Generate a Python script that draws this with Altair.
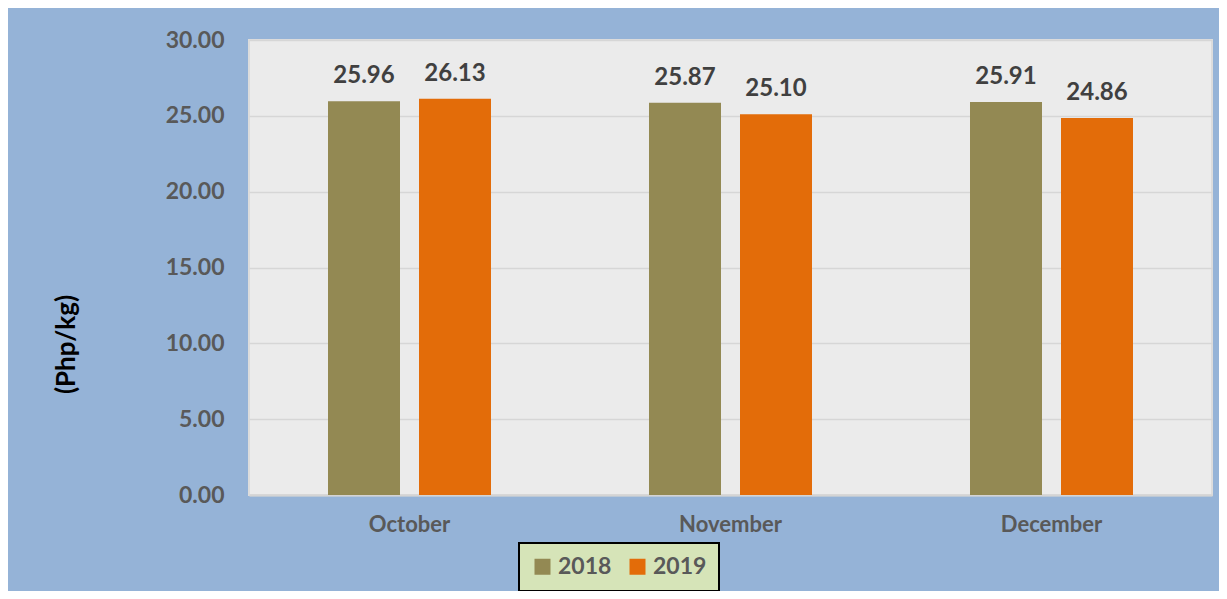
import altair as alt
import pandas as pd

months = ["October", "November", "December"]
years = ["2018", "2019"]
v2018 = [25.96, 25.87, 25.91]
v2019 = [26.13, 25.10, 24.86]
colors = ["#938953", "#E36C09"]

rows = []
for m, a, b in zip(months, v2018, v2019):
    rows.append({"month": m, "year": "2018", "price": a})
    rows.append({"month": m, "year": "2019", "price": b})
df = pd.DataFrame(rows)

FONT = "Lato"

x = alt.X(
    "month:N",
    sort=months,
    title=None,
    scale=alt.Scale(paddingInner=0.4922, paddingOuter=0.2461),
    axis=alt.Axis(
        labelAngle=0,
        labelFont=FONT,
        labelFontWeight="bold",
        labelFontSize=22,
        labelColor="#595959",
        labelPadding=19,
        ticks=False,
        domainColor="#d4d4d4",
        domainWidth=2,
    ),
)
xo = alt.XOffset(
    "year:N", sort=years, scale=alt.Scale(paddingInner=0.2088, paddingOuter=0)
)
y = alt.Y(
    "price:Q",
    scale=alt.Scale(domain=[0, 30]),
    axis=alt.Axis(
        values=[0, 5, 10, 15, 20, 25, 30],
        format=".2f",
        title="(Php/kg)",
        titleFont=FONT,
        titleFontWeight="bold",
        titleFontSize=26,
        titleColor="#000000",
        titleAngle=-90,
        titleX=-183,
        titleY=304,
        titleAlign="center",
        titleBaseline="middle",
        labelFont=FONT,
        labelFontWeight="bold",
        labelFontSize=23,
        labelColor="#595959",
        labelPadding=25,
        ticks=False,
        domain=False,
        gridColor="#d6d6d6",
        gridWidth=1.5,
    ),
)

bars = alt.Chart(df).mark_bar().encode(
    x=x,
    xOffset=xo,
    y=y,
    color=alt.Color(
        "year:N",
        scale=alt.Scale(domain=years, range=colors),
        legend=alt.Legend(
            title=None,
            orient="none",
            legendX=270,
            legendY=503,
            direction="horizontal",
            symbolType="square",
            symbolSize=256,
            symbolStrokeWidth=0,
            labelFont=FONT,
            labelFontWeight="bold",
            labelFontSize=23,
            labelColor="#595959",
            labelOffset=4,
            columnPadding=14,
            padding=12,
            fillColor="#d6e4b8",
            strokeColor="#000000",
        ),
    ),
)

labels = alt.Chart(df).mark_text(
    font=FONT,
    fontWeight="bold",
    fontSize=24,
    color="#404040",
    baseline="alphabetic",
    dy=-18,
).encode(
    x=alt.X("month:N", sort=months),
    xOffset=alt.XOffset("year:N", sort=years),
    y="price:Q",
    text=alt.Text("price:Q", format=".2f"),
)

chart = (
    alt.layer(bars, labels)
    .properties(
        width=963,
        height=455,
        background="#95B3D7",
        padding={"left": 241, "top": 32, "right": 7, "bottom": 96},
        autosize=alt.AutoSizeParams(type="none"),
    )
    .configure_view(fill="#ebebeb", stroke="#dcdcdc", strokeWidth=2)
    .configure_legend(strokeWidth=2)
)

chart.save("out.html", embed_options={"renderer": "svg", "actions": False})
